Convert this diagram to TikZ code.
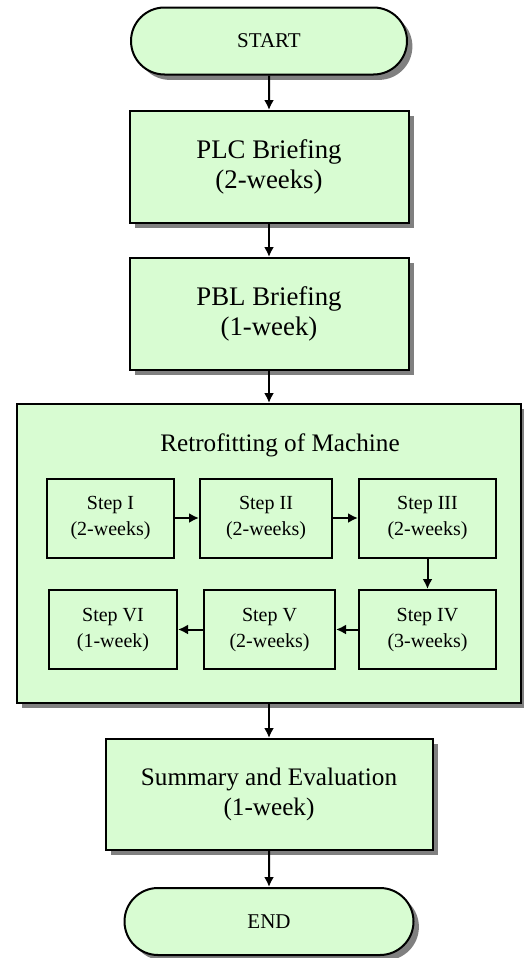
\documentclass[tikz,border=0pt]{standalone}
\usepackage{fontspec}
\setmainfont{Liberation Serif}
\usetikzlibrary{shapes.misc,shadows,arrows.meta}
\definecolor{boxgreen}{HTML}{D8FCD2}
\begin{document}
\begin{tikzpicture}[x=0.5pt,y=-0.5pt,>={Latex[length=5pt,width=5pt]},
	box/.style={draw,line width=1pt,fill=boxgreen,align=center,inner sep=0pt},
	shade/.style={drop shadow={shadow xshift=2.7pt,shadow yshift=-2.7pt,fill=gray,opacity=1}},
	stepbox/.style={box,minimum height=39.5pt,font=\fontsize{10}{13}\selectfont},
	term/.style={box,shade,rounded rectangle,minimum width=138pt,minimum height=33.5pt,font=\fontsize{10.5}{12}\selectfont},
	arr/.style={->,line width=1pt}]
\useasboundingbox (0,0) rectangle (524,958);
% main column
\node[term] (start) at (269,41) {START};
\node[box,shade,minimum width=139.5pt,minimum height=56pt,font=\fontsize{13.4}{15.4}\selectfont] (plc) at (269,167) {PLC Briefing\\(2-weeks)};
\node[box,shade,minimum width=139.5pt,minimum height=56pt,font=\fontsize{13.4}{15.4}\selectfont] (pbl) at (269,314) {PBL Briefing\\(1-week)};
\node[box,shade,minimum width=252pt,minimum height=149.5pt] (retro) at (269,553.5) {};
\node[font=\fontsize{12.6}{15}\selectfont] (title) at (280,445) {Retrofitting of Machine};
% steps
\node[stepbox,minimum width=63.5pt] (s1) at (110.5,518) {Step I\\(2-weeks)};
\node[stepbox,minimum width=66pt] (s2) at (266,518) {Step II\\(2-weeks)};
\node[stepbox,minimum width=68.5pt] (s3) at (427.5,518) {Step III\\(2-weeks)};
\node[stepbox,minimum width=68.5pt] (s4) at (427.5,629.5) {Step IV\\(3-weeks)};
\node[stepbox,minimum width=65.5pt] (s5) at (269.5,629.5) {Step V\\(2-weeks)};
\node[stepbox,minimum width=64pt] (s6) at (113,629.5) {Step VI\\(1-week)};
\node[box,shade,minimum width=163.5pt,minimum height=55.5pt,font=\fontsize{12.6}{15.4}\selectfont] (summ) at (269,794.5) {Summary and Evaluation\\(1-week)};
\node[term,minimum width=144.5pt] (end) at (269,921.5) {END};
% arrows
\draw[arr] (start) -- (plc);
\draw[arr] (plc) -- (pbl);
\draw[arr] (pbl) -- (retro);
\draw[arr] (retro) -- (summ);
\draw[arr] (summ) -- (end);
\draw[arr] (s1) -- (s2);
\draw[arr] (s2) -- (s3);
\draw[arr] (s3) -- (s4);
\draw[arr] (s4) -- (s5);
\draw[arr] (s5) -- (s6);
\end{tikzpicture}
\end{document}
